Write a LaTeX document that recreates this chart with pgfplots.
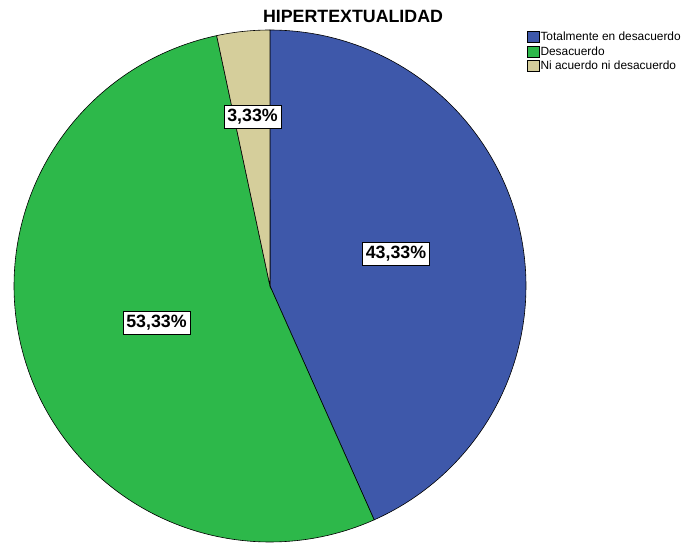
\documentclass[border=0pt]{standalone}
\usepackage{pgfplots}
\pgfplotsset{compat=1.18}
\usepackage{pgfplotstable}
\usepackage{fontspec}
\setmainfont{Liberation Sans}
\definecolor{cBlue}{RGB}{62,88,170}
\definecolor{cGreen}{RGB}{45,184,74}
\definecolor{cTan}{RGB}{213,206,155}
% category, percent
\pgfplotstableread{
cat value
1 43.33
2 53.33
3 3.33
}\piedata
\begin{document}
\begin{tikzpicture}
\begin{axis}[
  scale only axis, width=686bp, height=543bp,
  xmin=0, xmax=686, ymin=0, ymax=543,
  hide axis, clip=false,
  legend style={at={(axis cs:527,512)}, anchor=north west, draw=none, fill=none,
    inner sep=0pt, row sep=2.8bp, font=\fontsize{11.9bp}{12bp}\selectfont,
    nodes={inner sep=0.8bp}},
  legend cell align=left,
  legend image code/.code={\draw[#1, draw=black, line width=0.5bp] (0bp,-5.5bp) rectangle (12bp,5.5bp);},
]
\path (axis cs:0,0) rectangle (axis cs:686,543);
% slices: start at 12 o'clock, clockwise; 3.6 degrees per percent
\addplot[fill=cBlue, draw=black, line width=0.6bp, domain=90:90-3.6*43.33, samples=120]
  ({270+256*cos(x)},{257+256*sin(x)}) -- (axis cs:270,257) -- cycle;
\addlegendentry{Totalmente en desacuerdo}
\addplot[fill=cGreen, draw=black, line width=0.6bp, domain=90-3.6*43.33:90-3.6*96.66, samples=140]
  ({270+256*cos(x)},{257+256*sin(x)}) -- (axis cs:270,257) -- cycle;
\addlegendentry{Desacuerdo}
\addplot[fill=cTan, draw=black, line width=0.6bp, domain=90-3.6*96.66:90-3.6*99.99, samples=20]
  ({270+256*cos(x)},{257+256*sin(x)}) -- (axis cs:270,257) -- cycle;
\addlegendentry{Ni acuerdo ni desacuerdo}
% labels
\tikzset{pl/.style={draw=black, fill=white, line width=0.6bp, inner xsep=3.2bp, inner ysep=0bp,
  minimum height=23bp, font=\fontsize{17.8bp}{18bp}\selectfont\bfseries}}
\node[pl] at (axis cs:396,289.5) {43,33\%};
\node[pl] at (axis cs:156.5,220) {53,33\%};
\node[pl] at (axis cs:252.5,426.5) {3,33\%};
\node[font=\fontsize{17.8bp}{18bp}\selectfont\bfseries] at (axis cs:353,526.5) {HIPERTEXTUALIDAD};
\end{axis}
\end{tikzpicture}
\end{document}
